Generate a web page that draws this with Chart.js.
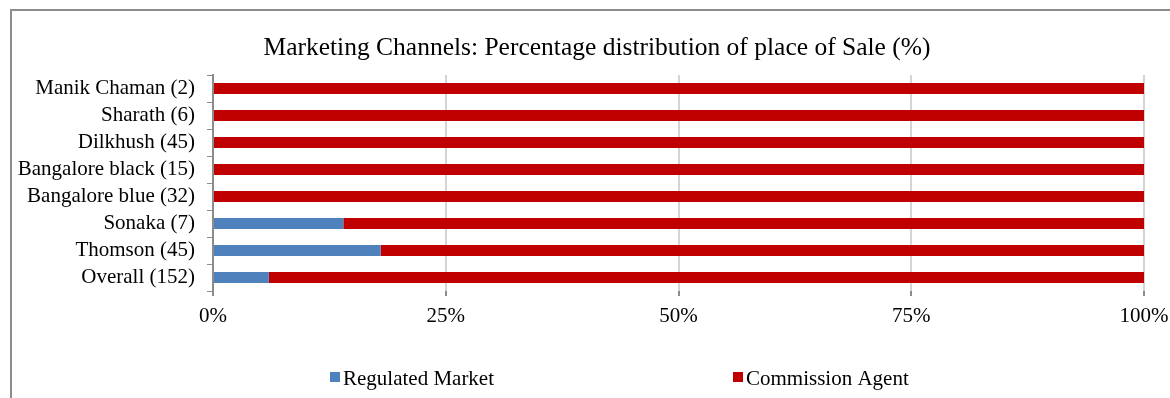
<!DOCTYPE html>
<html>
<head>
<meta charset="utf-8">
<script src="https://cdn.jsdelivr.net/npm/chart.js@4/dist/chart.umd.min.js"></script>
<style>
  html, body { margin: 0; padding: 0; background: #fff; }
  #wrap { width: 1170px; height: 398px; position: relative; }
</style>
</head>
<body>
<div id="wrap"><canvas id="chart" width="1170" height="398"></canvas></div>
<script>
// varieties (sample size in brackets), top to bottom
var varieties = ["Manik Chaman (2)", "Sharath (6)", "Dilkhush (45)", "Bangalore black (15)",
                 "Bangalore blue (32)", "Sonaka (7)", "Thomson (45)", "Overall (152)"];
var regulatedMarket = [0, 0, 0, 0, 0, 14, 18, 6];
var commissionAgent = [100, 100, 100, 100, 100, 86, 82, 94];
var xTicks = [0, 25, 50, 75, 100];
var chartTitle = "Marketing Channels: Percentage distribution of place of Sale (%)";

var serif = "'Liberation Serif', 'Times New Roman', serif";

// frame, title and the spread-out legend
var decor = {
  id: "decor",
  afterDraw: function (chart) {
    var ctx = chart.ctx;
    ctx.save();
    ctx.strokeStyle = "#8c8c8c";
    ctx.lineWidth = 2;
    ctx.strokeRect(11, 10, 1400, 600);

    ctx.fillStyle = "#000";
    ctx.font = "25.5px " + serif;
    ctx.textAlign = "center";
    ctx.textBaseline = "alphabetic";
    ctx.fillText(chartTitle, 597, 55);

    var items = [[330, 0], [733, 1]];
    ctx.font = "21px " + serif;
    ctx.textAlign = "left";
    items.forEach(function (it) {
      var ds = chart.data.datasets[it[1]];
      ctx.fillStyle = ds.backgroundColor;
      ctx.fillRect(it[0], 372, 10, 10);
      ctx.fillStyle = "#000";
      ctx.fillText(ds.label, it[0] + 13, 385);
    });
    ctx.restore();
  }
};

new Chart(document.getElementById("chart"), {
  type: "bar",
  data: {
    labels: varieties,
    datasets: [
      { label: "Regulated Market", data: regulatedMarket, backgroundColor: "#4f81bd" },
      { label: "Commission Agent", data: commissionAgent, backgroundColor: "#c00000" }
    ]
  },
  options: {
    indexAxis: "y",
    responsive: false,
    animation: false,
    layout: { padding: { left: 0, right: 0, top: 75, bottom: 67 } },
    datasets: { bar: { categoryPercentage: 1, barPercentage: 0.41 } },
    plugins: {
      legend: { display: false },
      title: { display: false },
      tooltip: { enabled: false }
    },
    scales: {
      x: {
        stacked: true,
        min: 0,
        max: 100,
        afterBuildTicks: function (s) { s.ticks = xTicks.map(function (v) { return { value: v }; }); },
        afterFit: function (s) { s.height = 40; s.paddingRight = 26; },
        grid: { color: "#d4d4d4", lineWidth: 2, tickColor: "#8c8c8c", tickLength: 5 },
        border: { display: false },
        ticks: {
          color: "#000",
          padding: 8,
          autoSkip: false,
          maxRotation: 0,
          font: { family: serif, size: 21 },
          callback: function (v) { return v + "%"; }
        }
      },
      y: {
        stacked: true,
        afterFit: function (s) { s.width = 213; },
        grid: { drawOnChartArea: false, tickColor: "#8c8c8c", tickLength: 6, offset: true },
        border: { color: "#8c8c8c", width: 2 },
        ticks: { color: "#000", padding: 12, autoSkip: false, font: { family: serif, size: 21 } }
      }
    }
  },
  plugins: [decor]
});
</script>
</body>
</html>
